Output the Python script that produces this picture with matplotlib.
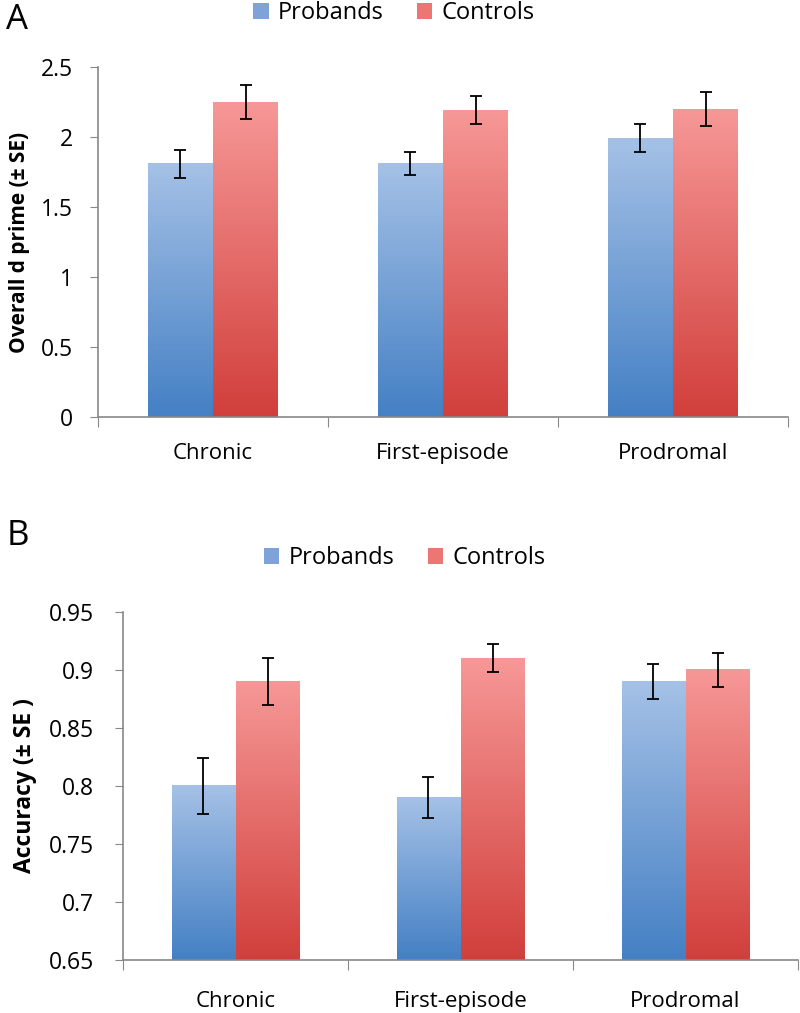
import matplotlib
matplotlib.use("Agg")
import matplotlib.pyplot as plt
import numpy as np
from matplotlib.colors import LinearSegmentedColormap
from matplotlib.patches import Rectangle

plt.rcParams['font.family'] = ['Open Sans', 'DejaVu Sans']

groups = ['Chronic', 'First-episode', 'Prodromal']
series = ['Probands', 'Controls']

dprime_probands = [1.81, 1.81, 1.99]
dprime_probands_se = [0.10, 0.08, 0.10]
dprime_controls = [2.25, 2.19, 2.20]
dprime_controls_se = [0.12, 0.10, 0.12]

acc_probands = [0.80, 0.79, 0.89]
acc_probands_se = [0.024, 0.018, 0.015]
acc_controls = [0.89, 0.91, 0.90]
acc_controls_se = [0.020, 0.012, 0.015]

cmaps = {
    'Probands': LinearSegmentedColormap.from_list('blue', ['#4480C4', '#A5C1E6']),
    'Controls': LinearSegmentedColormap.from_list('red', ['#D13F3B', '#F69897']),
}
legend_colors = {'Probands': '#7FA3D8', 'Controls': '#EC7674'}

grad = np.linspace(0, 1, 256).reshape(-1, 1)


def gradient_bars(ax, x, heights, errs, name, bottom):
    for xi, h, e in zip(x, heights, errs):
        x0, x1 = xi - 0.2825 / 2, xi + 0.2825 / 2
        ax.imshow(grad, cmap=cmaps[name], origin='lower', aspect='auto',
                  extent=(x0, x1, bottom, h), zorder=2, interpolation='bicubic')
        ax.errorbar(xi, h, yerr=e, fmt='none', ecolor='black', elinewidth=1.3,
                    capsize=4, capthick=1.3, zorder=4)


def panel(ax, probands, probands_se, controls, controls_se, ylim, yticks, ylabel,
          tick_size, label_size, ypad, xpad):
    x = np.arange(len(groups))
    gradient_bars(ax, x - 0.1425, probands, probands_se, 'Probands', ylim[0])
    gradient_bars(ax, x + 0.1425, controls, controls_se, 'Controls', ylim[0])
    ax.set_xlim(-0.5, len(groups) - 0.5)
    ax.set_ylim(*ylim)
    ax.set_yticks(yticks)
    ax.set_yticklabels([f"{v:.2f}".rstrip('0').rstrip('.') for v in yticks],
                       fontsize=tick_size)
    ax.set_xticks(np.arange(-0.5, len(groups)))
    ax.set_xticklabels([])
    ax.set_xticks(x, minor=True)
    ax.set_xticklabels(groups, minor=True, fontsize=16)
    ax.tick_params(axis='x', which='minor', length=0, pad=xpad)
    ax.tick_params(axis='x', which='major', length=7, color='#888888')
    ax.tick_params(axis='y', length=6, color='#888888', pad=ypad)
    for s in ['top', 'right']:
        ax.spines[s].set_visible(False)
    for s in ['left', 'bottom']:
        ax.spines[s].set_color('#888888')
        ax.spines[s].set_linewidth(1.2)
    ax.set_ylabel(ylabel, fontsize=label_size, fontweight='bold')


fig = plt.figure(figsize=(8, 10.13), dpi=100)
axA = fig.add_axes([0.1225, 0.5884, 0.8625, 0.3455])
axB = fig.add_axes([0.1538, 0.0523, 0.8437, 0.3436])

panel(axA, dprime_probands, dprime_probands_se, dprime_controls, dprime_controls_se,
      (0, 2.5), [0, 0.5, 1, 1.5, 2, 2.5], 'Overall d prime (± SE)', 16.5, 15, 12, 19)
panel(axB, acc_probands, acc_probands_se, acc_controls, acc_controls_se,
      (0.65, 0.95), [0.65, 0.7, 0.75, 0.8, 0.85, 0.9, 0.95], 'Accuracy (± SE )',
      16.5, 16.5, 15, 22)

axA.yaxis.set_label_coords(-0.099, 0.5)
axB.yaxis.set_label_coords(-0.127, 0.5)

fig.text(0.008, 0.997, 'A', fontsize=25, va='top')
fig.text(0.008, 0.488, 'B', fontsize=25, va='top')

# legends
for ax, xpos, ypos in [(axA, 0.4925, 0.987), (axB, 0.506, 0.449)]:
    handles = [Rectangle((0, 0), 1, 1, facecolor=legend_colors[n]) for n in series]
    fig.legend(handles, series, loc='center', bbox_to_anchor=(xpos, ypos),
               ncol=2, frameon=False, fontsize=17, handlelength=0.65,
               handleheight=0.65, handletextpad=0.4, columnspacing=1.4,
               borderaxespad=0, borderpad=0)

fig.savefig('out.png', dpi=100)
